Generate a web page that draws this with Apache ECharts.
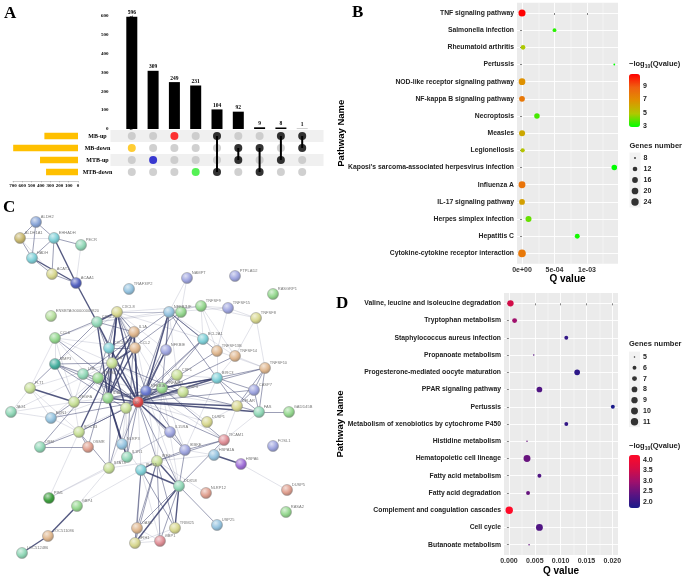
<!DOCTYPE html>
<html><head><meta charset="utf-8">
<script src="https://cdn.jsdelivr.net/npm/echarts@6/dist/echarts.min.js"></script>
<style>html,body{margin:0;padding:0;background:#fff}#c{width:685px;height:578px}</style>
</head><body><div id="c"></div>
<script>
// ================= DATA =================
// Panel A (UpSet)
const setNames = ['MB-up', 'MB-down', 'MTB-up', 'MTB-down'];
const setSizes = [362, 698, 409, 344];
const intersectSizes = [596, 309, 249, 231, 104, 92, 9, 8, 1];
const intersectSets = [['MB-down'], ['MTB-up'], ['MB-up'], ['MTB-down'], ['MB-up', 'MTB-down'],
  ['MB-down', 'MTB-up'], ['MB-down', 'MTB-down'], ['MB-up', 'MTB-up'], ['MB-up', 'MB-down']];
const barTicksMax = 600;
const setSizeMax = 700;

// Panel B (KEGG, dot plot)
const bPathways = ['TNF signaling pathway', 'Salmonella infection', 'Rheumatoid arthritis', 'Pertussis',
  'NOD-like receptor signaling pathway', 'NF-kappa B signaling pathway', 'Necroptosis', 'Measles',
  'Legionellosis', "Kaposi's sarcoma-associated herpesvirus infection", 'Influenza A',
  'IL-17 signaling pathway', 'Herpes simplex infection', 'Hepatitis C', 'Cytokine-cytokine receptor interaction'];
const bQvalue = [1.6e-11, 5.0e-4, 1.6e-5, 1.42e-3, 1.6e-7, 1.6e-8, 2.3e-4, 1.0e-6, 1.0e-5, 1.42e-3,
  1.0e-8, 5.0e-7, 1.0e-4, 8.5e-4, 1.6e-8];
const bGenes = [22, 10, 12, 8, 20, 16, 15, 17, 11, 15, 21, 16, 17, 13, 25];
const bQTicks = [0, 0.0005, 0.001];
const bColorTicks = [3, 5, 7, 9];
const bSizeTicks = [8, 12, 16, 20, 24];

// Panel D (KEGG, dot plot)
const dPathways = ['Valine, leucine and isoleucine degradation', 'Tryptophan metabolism',
  'Staphylococcus aureus infection', 'Propanoate metabolism', 'Progesterone-mediated oocyte maturation',
  'PPAR signaling pathway', 'Pertussis', 'Metabolism of xenobiotics by cytochrome P450',
  'Histidine metabolism', 'Hematopoietic cell lineage', 'Fatty acid metabolism', 'Fatty acid degradation',
  'Complement and coagulation cascades', 'Cell cycle', 'Butanoate metabolism'];
const dQvalue = [0.0003, 0.0011, 0.0111, 0.0048, 0.0132, 0.0059, 0.0201, 0.0111, 0.0035, 0.0035,
  0.0059, 0.0037, 0.00006, 0.0059, 0.0039];
const dGenes = [9, 7, 6, 5, 8, 8, 6, 6, 5, 10, 6, 6, 11, 10, 5];
const dQTicks = [0, 0.005, 0.010, 0.015, 0.020];
const dColorTicks = [2.0, 2.5, 3.0, 3.5, 4.0];
const dSizeTicks = [5, 6, 7, 8, 9, 10, 11];

// Panel C (STRING network): node name + layout position
const netNodes = [
  ['ALDH2', 36, 222], ['ALDH1A1', 20, 238], ['EHHADH', 54, 238], ['PECR', 81, 245], ['HADH', 32, 258],
  ['ACAT1', 52, 274], ['ACAA1', 76, 283], ['TRAF3IP2', 129, 289], ['NAMPT', 187, 278], ['PTPLAD2', 235, 276],
  ['RASGRP1', 273, 294], ['ENSBTAG00000009820', 51, 316], ['CXCL8', 117, 312], ['CXCL2', 97, 322],
  ['NFKB2', 169, 312], ['LIF', 181, 312], ['TNFSF9', 201, 306], ['TNFSF15', 228, 308], ['TNFSF8', 256, 318],
  ['CCL6', 55, 338], ['IL1A', 134, 332], ['BCL2A1', 203, 339], ['CXCL3', 109, 348], ['CCL2', 135, 348],
  ['NFKBIE', 166, 350], ['TNFSF13B', 217, 351], ['TNFSF14', 235, 356], ['MMP3', 55, 364], ['IL6', 112, 363],
  ['TNFSF10', 265, 368], ['LTB', 83, 374], ['PTGS2', 98, 378], ['CSF1', 177, 375], ['BIRC3', 217, 378],
  ['FLT1', 30, 388], ['NFKBIA', 146, 391], ['TNFAIP3', 162, 388], ['CSF3', 183, 392], ['CASP7', 254, 390],
  ['VEGFA', 74, 402], ['IL1B', 108, 398], ['TNF', 138, 402], ['CFLAR', 237, 406], ['JAG1', 11, 412],
  ['FAS', 259, 412], ['GADD45B', 289, 412], ['IL10', 126, 408], ['EDN1', 51, 418], ['DUSP1', 207, 422],
  ['SOCS3', 79, 432], ['IL15RA', 170, 432], ['TICAM1', 224, 440], ['OSM', 40, 447], ['OSMR', 88, 447],
  ['NLRP3', 122, 444], ['IKBKE', 185, 450], ['HSPA1A', 214, 455], ['FOSL1', 273, 446], ['HSPA6', 241, 464],
  ['IL1R1', 127, 457], ['STAT4', 109, 468], ['IRF7', 157, 461], ['ISG15', 141, 470], ['DDX58', 179, 486],
  ['NLRP12', 206, 493], ['DUSP5', 287, 490], ['PIM1', 49, 498], ['GBP4', 77, 506], ['RASA2', 286, 512],
  ['USP25', 217, 525], ['TRIM25', 175, 528], ['OASL', 137, 528], ['LOC511086', 48, 536], ['IFIH1', 135, 543],
  ['GBP1', 160, 541], ['LOC512486', 22, 553]
];
// edges: [source, target, confidence 1..3]
const netEdges = [
  ['ALDH2','ALDH1A1',2],['ALDH2','EHHADH',2],['ALDH2','HADH',2],['ALDH1A1','EHHADH',1],['ALDH1A1','HADH',2],
  ['EHHADH','HADH',2],['EHHADH','ACAT1',2],['EHHADH','ACAA1',3],['EHHADH','PECR',2],['PECR','ACAA1',1],
  ['HADH','ACAT1',2],['HADH','ACAA1',3],['ACAT1','ACAA1',2],['ALDH1A1','ACAT1',1],['ACAA1','CXCL2',3],
  ['TNF','CXCL8',3],['TNF','CXCL2',3],['TNF','IL1A',3],['TNF','CCL2',3],['TNF','CXCL3',2],['TNF','NFKBIE',2],
  ['TNF','IL6',3],['TNF','PTGS2',3],['TNF','LTB',2],['TNF','MMP3',2],['TNF','VEGFA',2],['TNF','NFKBIA',3],
  ['TNF','TNFAIP3',3],['TNF','CSF1',2],['TNF','CSF3',2],['TNF','BIRC3',3],['TNF','CFLAR',3],['TNF','FAS',3],
  ['TNF','CASP7',2],['TNF','IL1B',3],['TNF','IL10',3],['TNF','SOCS3',2],['TNF','EDN1',2],['TNF','IL15RA',3],
  ['TNF','NLRP3',2],['TNF','IKBKE',2],['TNF','DUSP1',1],['TNF','IL1R1',2],['TNF','STAT4',1],['TNF','IRF7',2],
  ['TNF','ISG15',1],['TNF','DDX58',2],['TNF','TICAM1',2],['TNF','BCL2A1',2],['TNF','TNFSF13B',2],
  ['TNF','TNFSF14',2],['TNF','TNFSF10',2],['TNF','NFKB2',2],['TNF','LIF',2],['TNF','CCL6',2],['TNF','OSM',1],
  ['IL6','CXCL8',3],['IL6','CXCL2',2],['IL6','IL1A',3],['IL6','CCL2',3],['IL6','PTGS2',2],['IL6','VEGFA',2],
  ['IL6','MMP3',2],['IL6','IL1B',3],['IL6','IL10',3],['IL6','SOCS3',3],['IL6','OSM',2],['IL6','OSMR',2],
  ['IL6','LIF',2],['IL6','CSF3',2],['IL6','CCL6',1],['IL6','TNFAIP3',1],['IL6','NFKBIA',1],['IL6','STAT4',2],
  ['IL6','EDN1',1],['IL6','FLT1',1],['IL6','JAG1',1],
  ['IL1B','CXCL8',3],['IL1B','CXCL2',3],['IL1B','CXCL3',2],['IL1B','CCL2',3],['IL1B','IL1A',3],['IL1B','PTGS2',2],
  ['IL1B','MMP3',2],['IL1B','NLRP3',3],['IL1B','IL1R1',3],['IL1B','IL10',2],['IL1B','CSF3',2],['IL1B','NFKBIA',2],
  ['IL1B','TNFAIP3',1],['IL1B','VEGFA',1],['IL1B','EDN1',1],['IL1B','CCL6',1],
  ['CXCL8','CXCL2',3],['CXCL8','CXCL3',2],['CXCL8','CCL2',2],['CXCL8','IL1A',2],['CXCL8','CCL6',2],
  ['CXCL8','PTGS2',2],['CXCL8','NFKBIA',2],['CXCL8','NFKBIE',1],['CXCL8','MMP3',1],['CXCL8','TNFAIP3',1],
  ['CXCL8','CSF3',1],['CXCL8','TNFSF9',1],['CXCL8','LIF',1],['CXCL8','NFKB2',1],['CXCL8','BCL2A1',1],
  ['NFKBIA','NFKB2',3],['NFKBIA','NFKBIE',3],['NFKBIA','TNFAIP3',2],['NFKBIA','BIRC3',2],['NFKBIA','IKBKE',2],
  ['NFKBIA','IRF7',1],['NFKBIA','CFLAR',1],['NFKBIA','BCL2A1',2],['NFKBIA','LTB',1],['NFKBIA','TICAM1',1],
  ['NFKBIA','DDX58',1],['NFKBIA','IL1A',1],
  ['TNFAIP3','BIRC3',3],['TNFAIP3','CFLAR',2],['TNFAIP3','NFKB2',2],['TNFAIP3','IKBKE',1],['TNFAIP3','DDX58',1],
  ['TNFAIP3','TICAM1',2],['TNFAIP3','BCL2A1',2],['TNFAIP3','IRF7',1],['TNFAIP3','DUSP1',1],
  ['NFKB2','NFKBIE',2],['NFKB2','LIF',1],['NFKB2','TNFSF9',1],['NFKB2','TNFSF15',1],['NFKB2','BIRC3',2],
  ['NFKB2','BCL2A1',2],['NFKB2','LTB',2],['NFKB2','TNFSF13B',2],['NFKB2','TNFSF14',1],['NFKB2','NAMPT',1],
  ['NFKB2','CSF1',1],['NAMPT','LIF',1],
  ['TNFSF9','TNFSF15',1],['TNFSF9','TNFSF8',1],['TNFSF9','TNFSF13B',1],['TNFSF9','TNFSF14',1],['TNFSF9','BCL2A1',1],
  ['TNFSF15','TNFSF8',1],['TNFSF15','TNFSF13B',1],['TNFSF8','TNFSF10',1],['TNFSF8','TNFSF14',1],
  ['TNFSF10','FAS',2],['TNFSF10','CASP7',2],['TNFSF10','CFLAR',2],['TNFSF10','BIRC3',2],['TNFSF10','TNFSF14',1],
  ['TNFSF10','TNFSF13B',1],['FAS','CASP7',2],['FAS','CFLAR',2],['FAS','GADD45B',2],['FAS','BIRC3',2],['FAS','TICAM1',1],
  ['CASP7','CFLAR',2],['CASP7','BIRC3',2],['CFLAR','BIRC3',2],['CFLAR','TICAM1',1],['CFLAR','DUSP1',1],
  ['BIRC3','TNFSF13B',1],['BIRC3','TNFSF14',1],['BIRC3','CSF1',1],['BIRC3','IKBKE',1],
  ['TICAM1','DDX58',2],['TICAM1','IKBKE',2],['TICAM1','HSPA1A',1],['TICAM1','IRF7',2],
  ['HSPA1A','HSPA6',3],['HSPA1A','IKBKE',1],['HSPA1A','IRF7',1],['HSPA6','DUSP5',1],
  ['DDX58','IRF7',3],['DDX58','ISG15',3],['DDX58','TRIM25',3],['DDX58','OASL',2],['DDX58','IFIH1',3],
  ['DDX58','GBP1',2],['DDX58','USP25',2],['DDX58','IKBKE',2],
  ['IRF7','ISG15',3],['IRF7','OASL',2],['IRF7','IFIH1',2],['IRF7','GBP1',2],['IRF7','TRIM25',2],['IRF7','IKBKE',2],
  ['IRF7','STAT4',1],['IRF7','GBP4',1],['ISG15','OASL',2],['ISG15','IFIH1',2],['ISG15','GBP1',1],['ISG15','TRIM25',2],
  ['OASL','IFIH1',2],['OASL','GBP1',1],['IFIH1','GBP1',1],['TRIM25','GBP1',1],['TRIM25','IFIH1',1],['ISG15','NLRP3',1],
  ['GBP4','LOC511086',3],['LOC511086','LOC512486',3],['GBP4','STAT4',1],
  ['PIM1','SOCS3',1],['PIM1','STAT4',1],['PIM1','IL1R1',1],
  ['SOCS3','OSM',2],['SOCS3','OSMR',2],['SOCS3','STAT4',2],['SOCS3','FLT1',1],['SOCS3','VEGFA',1],['SOCS3','EDN1',1],
  ['SOCS3','IL10',2],['OSM','OSMR',2],
  ['FLT1','VEGFA',3],['FLT1','JAG1',1],['FLT1','EDN1',1],['FLT1','MMP3',2],['FLT1','CCL6',1],
  ['VEGFA','MMP3',2],['VEGFA','EDN1',2],['VEGFA','JAG1',1],['VEGFA','PTGS2',2],['VEGFA','LTB',1],['VEGFA','CCL6',1],
  ['MMP3','CCL6',1],['MMP3','CXCL2',2],['MMP3','PTGS2',2],['MMP3','LTB',1],['CCL6','CXCL2',1],['CCL6','CCL2',1],
  ['IL15RA','IL1R1',1],['IL15RA','IKBKE',1],['IL15RA','STAT4',1],['CSF1','CSF3',2],
  ['IL10','STAT4',2],['IL10','IL1R1',1],['IL10','NLRP3',1],['NLRP3','IL1R1',2],['IL1R1','IL1A',2],
  ['CXCL3','CCL2',2],['CXCL3','CXCL2',2],['CXCL3','IL1A',2],['IL1A','CCL2',2],['IL1A','CXCL2',2],
  ['CXCL2','TNFSF9',1],['CXCL2','LIF',1],['NLRP12','IRF7',1],['EDN1','JAG1',1]
];

// ================= STYLE =================
const SERIF = 'Liberation Serif', SANS = 'Liberation Sans';
const setColor = {'MB-up': '#ff0000', 'MB-down': '#ffc000', 'MTB-up': '#0a0ac8', 'MTB-down': '#2aee2a'};
const pal = {blue:'#8aa6d8', olive:'#c8b870', cyan:'#80d0d8', mint:'#92d8b8', yellow:'#d8d890', dblue:'#5563c0',
  lblue:'#96c4e0', peri:'#a0a6e0', green:'#96d890', lgreen:'#b8e0a0', peach:'#e0b890', teal:'#48b0a0',
  ygreen:'#c8e098', red:'#e04848', salmon:'#e0a090', purple:'#a070d8', dgreen:'#40a040', pink:'#e09098', dperi:'#6878d0'};
const nodeColor = {ALDH2:'blue', ALDH1A1:'olive', EHHADH:'cyan', PECR:'mint', HADH:'cyan', ACAT1:'yellow',
  ACAA1:'dblue', TRAF3IP2:'lblue', NAMPT:'peri', PTPLAD2:'peri', RASGRP1:'green', ENSBTAG00000009820:'lgreen',
  CXCL8:'yellow', CXCL2:'mint', NFKB2:'lblue', LIF:'green', TNFSF9:'green', TNFSF15:'peri', TNFSF8:'yellow',
  CCL6:'green', IL1A:'peach', BCL2A1:'cyan', CXCL3:'cyan', CCL2:'peach', NFKBIE:'peri', TNFSF13B:'peach',
  TNFSF14:'peach', MMP3:'teal', IL6:'ygreen', TNFSF10:'peach', LTB:'mint', PTGS2:'green', CSF1:'ygreen',
  BIRC3:'cyan', FLT1:'ygreen', NFKBIA:'dperi', TNFAIP3:'green', CSF3:'ygreen', CASP7:'peri', VEGFA:'ygreen',
  IL1B:'green', TNF:'red', CFLAR:'yellow', JAG1:'mint', FAS:'mint', GADD45B:'green', IL10:'ygreen', EDN1:'lblue',
  DUSP1:'yellow', SOCS3:'ygreen', IL15RA:'peri', TICAM1:'pink', OSM:'mint', OSMR:'salmon', NLRP3:'lblue',
  IKBKE:'peri', HSPA1A:'lblue', FOSL1:'peri', HSPA6:'purple', IL1R1:'mint', STAT4:'ygreen', IRF7:'ygreen',
  ISG15:'cyan', DDX58:'mint', NLRP12:'salmon', DUSP5:'salmon', PIM1:'dgreen', GBP4:'green', RASA2:'green',
  USP25:'lblue', TRIM25:'yellow', OASL:'peach', LOC511086:'peach', IFIH1:'yellow', GBP1:'pink', LOC512486:'mint'};

function mix(c, d, t) {
  const p = s => [1,3,5].map(i => parseInt(s.substr(i,2),16));
  const a = p(c), b = p(d);
  return 'rgb(' + a.map((v,i) => Math.round(v + (b[i]-v)*t)).join(',') + ')';
}
function sphere(c) {
  return {type:'radial', x:0.38, y:0.32, r:0.75, colorStops:[
    {offset:0, color:mix(c,'#ffffff',0.65)}, {offset:0.55, color:c}, {offset:1, color:mix(c,'#000000',0.28)}]};
}

// ================= BUILD =================
const grids = [], xAxes = [], yAxes = [], series = [], visualMaps = [];
const titles = [];
const letter = (t, l, tp) => titles.push({text:t, left:l, top:tp, padding:0,
  textStyle:{fontFamily:SERIF, fontWeight:'bold', fontSize:17, color:'#000'}});
letter('A', 4, 5); letter('B', 352, 4); letter('C', 3, 199); letter('D', 336, 295);

// ---- Panel A ----
const aLeft = 110.5, aWidth = 213;
let g = grids.push({left:aLeft, top:16, width:aWidth, height:113}) - 1;
let xi = xAxes.push({gridIndex:g, type:'value', min:-1, max:9, show:false}) - 1;
let yi = yAxes.push({gridIndex:g, type:'value', min:0, max:barTicksMax, interval:100,
  axisLine:{show:true, lineStyle:{color:'#000', width:0.6}},
  axisTick:{show:true, length:2, lineStyle:{color:'#000', width:0.6}},
  axisLabel:{fontFamily:SERIF, fontWeight:'bold', fontSize:5, color:'#000', margin:2},
  splitLine:{show:false}}) - 1;
series.push({type:'bar', xAxisIndex:xi, yAxisIndex:yi, barWidth:11,
  data:intersectSizes.map((v,i) => [i, v]), itemStyle:{color:'#000'},
  label:{show:true, position:'top', distance:1, fontFamily:SERIF, fontWeight:'bold', fontSize:5.5, color:'#000'}});

g = grids.push({left:aLeft, top:130, width:aWidth, height:48}) - 1;
const xm = xAxes.push({gridIndex:g, type:'value', min:-1, max:9, show:false}) - 1;
const ym = yAxes.push({gridIndex:g, type:'category', data:setNames, inverse:true,
  axisLine:{show:false}, axisTick:{show:false},
  axisLabel:{fontFamily:SERIF, fontWeight:'bold', fontSize:6, color:'#000', align:'center', margin:13},
  splitArea:{show:true, areaStyle:{color:['#f0f0f0', '#ffffff']}}, splitLine:{show:false}}) - 1;
const grayDots = [], onDots = [];
intersectSets.forEach((sets, i) => {
  setNames.forEach(s => {
    if (sets.includes(s)) onDots.push({value:[i, s], itemStyle:{color: sets.length === 1 ? setColor[s] : '#000'}});
    else grayDots.push([i, s]);
  });
  if (sets.length > 1) {
    const rows = sets.map(s => setNames.indexOf(s)).sort((a,b) => a-b);
    series.push({type:'line', xAxisIndex:xm, yAxisIndex:ym, z:3, symbol:'none', silent:true,
      data:[[i, setNames[rows[0]]], [i, setNames[rows[rows.length-1]]]], lineStyle:{color:'#000', width:2}});
  }
});
series.push({type:'scatter', xAxisIndex:xm, yAxisIndex:ym, z:2, symbolSize:8, data:grayDots, itemStyle:{color:'#c4c4c4'}});
series.push({type:'scatter', xAxisIndex:xm, yAxisIndex:ym, z:4, symbolSize:8, data:onDots});

g = grids.push({left:13, top:130, width:65, height:48}) - 1;
xi = xAxes.push({gridIndex:g, type:'value', min:0, max:setSizeMax, interval:100, inverse:true, offset:3,
  axisLine:{show:true, lineStyle:{color:'#999', width:0.5}}, axisTick:{show:true, length:1.5, lineStyle:{color:'#999', width:0.5}},
  axisLabel:{fontFamily:SERIF, fontWeight:'bold', fontSize:5, color:'#000', margin:2}, splitLine:{show:false}}) - 1;
yi = yAxes.push({gridIndex:g, type:'category', data:setNames, inverse:true, show:false}) - 1;
series.push({type:'bar', xAxisIndex:xi, yAxisIndex:yi, barWidth:6.5, data:setSizes, itemStyle:{color:'#ffc000'}});

// ---- dot plot panels ----
const sciFmt = v => {
  if (v === 0) return '0e+00';
  const e = Math.floor(Math.log10(v) + 1e-9), m = Math.round(v / Math.pow(10, e));
  return m + 'e' + (e < 0 ? '-' : '+') + String(Math.abs(e)).padStart(2, '0');
};
function dotPanel(p) {
  const gi = grids.push({left:p.left, top:p.top, width:p.width, height:p.height, show:true,
    backgroundColor:'#ebebeb', borderWidth:0}) - 1;
  const step = p.xticks[1] - p.xticks[0];
  const minor = p.xticks.map(v => v + step / 2).filter(v => v < p.xmax);
  const xi = xAxes.push({gridIndex:gi, type:'value', min:p.xmin, max:p.xmax, position:'bottom',
    name:'Q value', nameLocation:'middle', nameGap:11, nameMoveOverlap:false,
    nameTextStyle:{fontFamily:SANS, fontSize:10, fontWeight:'bold', color:'#000', verticalAlign:'top'},
    axisLine:{show:false},
    axisTick:{show:true, length:2, lineStyle:{color:'#333', width:0.6}, customValues:p.xticks},
    axisLabel:{customValues:p.xticks, formatter:p.fmt, fontFamily:SANS, fontSize:7, fontWeight:'bold', color:'#333', margin:3},
    splitLine:{show:true, lineStyle:{color:'#ffffff', width:0.9}}}) - 1;
  xAxes.push({gridIndex:gi, type:'value', min:p.xmin, max:p.xmax, position:'bottom',
    axisLine:{show:false}, axisTick:{show:false, customValues:minor}, axisLabel:{show:false, customValues:minor},
    splitLine:{show:true, lineStyle:{color:'#ffffff', width:0.45}}});
  const idx = p.cats.map((c, i) => i);
  const yi = yAxes.push({gridIndex:gi, type:'value', min:-0.6, max:p.cats.length - 0.4, inverse:true,
    name:'Pathway Name', nameLocation:'middle', nameGap:p.nameGap, nameRotate:90, nameMoveOverlap:false,
    nameTextStyle:{fontFamily:SANS, fontSize:9.5, fontWeight:'bold', color:'#000'},
    axisLine:{show:false},
    axisTick:{show:true, length:2, lineStyle:{color:'#333', width:0.6}, customValues:idx},
    axisLabel:{customValues:idx, formatter:v => p.cats[Math.round(v)], fontFamily:SANS, fontSize:6.8,
      fontWeight:'bold', color:'#222', margin:3},
    splitLine:{show:true, lineStyle:{color:'#ffffff', width:0.9}}}) - 1;
  const logq = p.q.map(q => -Math.log10(q));
  const cmin = Math.min(...logq), cmax = Math.max(...logq);
  const gmin = Math.min(...p.genes), gmax = Math.max(...p.genes);
  const size = v => p.dmin + Math.sqrt(Math.max(0, (v - gmin) / (gmax - gmin))) * (p.dmax - p.dmin);
  const si = series.push({type:'scatter', xAxisIndex:xi, yAxisIndex:yi, z:5,
    data:p.cats.map((c, i) => [p.q[i], i, logq[i], p.genes[i]]),
    symbolSize:v => size(v[3]), itemStyle:{opacity:1}}) - 1;
  visualMaps.push({type:'continuous', seriesIndex:si, dimension:2, min:cmin, max:cmax,
    inRange:{color:p.colors}, left:p.cbLeft, top:p.cbTop, itemWidth:11, itemHeight:53,
    calculable:false, padding:0, hoverLink:false, orient:'vertical'});
  // colorbar tick labels
  const cg = grids.push({left:p.cbLeft, top:p.cbTop, width:11, height:53}) - 1;
  xAxes.push({gridIndex:cg, type:'value', min:0, max:1, show:false});
  yAxes.push({gridIndex:cg, type:'value', min:cmin, max:cmax, position:'right',
    axisLine:{show:false}, axisTick:{show:false},
    axisLabel:{customValues:p.cticks, formatter:p.cfmt, fontFamily:SANS, fontSize:7, fontWeight:'bold', color:'#222', margin:3},
    splitLine:{show:false}});
  // size legend
  const n = p.sticks.length;
  const sg = grids.push({left:p.slLeft, top:p.slTop, width:11, height:p.slStep * n, show:true,
    backgroundColor:'#f2f2f2', borderWidth:0}) - 1;
  const sx = xAxes.push({gridIndex:sg, type:'category', data:['k'], show:false}) - 1;
  const sy = yAxes.push({gridIndex:sg, type:'category', data:p.sticks.map(String), inverse:true, position:'right',
    axisLine:{show:false}, axisTick:{show:false},
    axisLabel:{fontFamily:SANS, fontSize:7, fontWeight:'bold', color:'#222', margin:3}}) - 1;
  series.push({type:'scatter', xAxisIndex:sx, yAxisIndex:sy, data:p.sticks.map(v => ['k', String(v)]),
    symbolSize:v => size(+v[1]), itemStyle:{color:'#000'}});
  const lt = {fontFamily:SANS, color:'#222'};
  titles.push({text:'{a|\u2212log}{b|10}{a|(Qvalue)}', left:p.cbLeft, top:p.cbTitleTop, padding:0,
    textStyle:{rich:{a:Object.assign({fontSize:7.5, lineHeight:10, verticalAlign:'middle'}, lt),
      b:Object.assign({fontSize:5, lineHeight:10, verticalAlign:'bottom', padding:[3,0,0,0]}, lt)}}});
  titles.push({text:'Genes number', left:p.slLeft, top:p.slTitleTop, padding:0,
    textStyle:Object.assign({fontSize:7.5, fontWeight:'bold'}, lt)});
}

dotPanel({left:517, top:2.7, width:101, height:261, xmin:-0.000077, xmax:0.001477, xticks:bQTicks, fmt:sciFmt,
  cats:bPathways, q:bQvalue, genes:bGenes, nameGap:171, dmin:1.8, dmax:7.6,
  colors:['#00ff00', '#b0c800', '#e09000', '#f06010', '#ff0000'],
  cbLeft:629, cbTop:74, cticks:bColorTicks, cfmt:v => String(v), cbTitleTop:59,
  sticks:bSizeTicks, slLeft:629.5, slTop:152.5, slStep:11, slTitleTop:142});

dotPanel({left:504, top:293, width:114, height:262, xmin:-0.00095, xmax:0.0211, xticks:dQTicks,
  fmt:v => v.toFixed(3), cats:dPathways, q:dQvalue, genes:dGenes, nameGap:159, dmin:1.5, dmax:7.4,
  colors:['#1a1a8a', '#5a1482', '#a0106c', '#d80c44', '#ff0a28'],
  cbLeft:629, cbTop:455, cticks:dColorTicks, cfmt:v => v.toFixed(1), cbTitleTop:441,
  sticks:dSizeTicks, slLeft:629, slTop:351.6, slStep:10.8, slTitleTop:340});

// ---- Panel C: network ----
g = grids.push({left:0, top:195, width:300, height:383}) - 1;
xi = xAxes.push({gridIndex:g, type:'value', min:0, max:300, show:false}) - 1;
yi = yAxes.push({gridIndex:g, type:'value', min:195, max:578, inverse:true, show:false}) - 1;
const ew = [0, 0.5, 0.9, 1.4], eo = [0, 0.3, 0.55, 0.85];
series.push({type:'graph', coordinateSystem:'cartesian2d', xAxisIndex:xi, yAxisIndex:yi, z:1, silent:true,
  data:netNodes.map(nd => ({name:nd[0], value:[nd[1], nd[2]],
    itemStyle:{color:sphere(pal[nodeColor[nd[0]]] || '#cccccc'), borderColor:'#8c8c8c', borderWidth:0.5}})),
  links:netEdges.map(e => ({source:e[0], target:e[1], lineStyle:{width:ew[e[2]], opacity:eo[e[2]]}})),
  symbolSize:11,
  label:{show:true, position:'right', distance:0, offset:[-1, -5], fontFamily:SANS, fontSize:4, color:'#777',
    formatter:'{b}'},
  lineStyle:{color:'#353b6a', curveness:0},
  emphasis:{disabled:true}});

const chart = echarts.init(document.getElementById('c'), null, {renderer:'canvas', width:685, height:578});
chart.setOption({
  backgroundColor:'#ffffff', animation:false,
  title:titles, grid:grids, xAxis:xAxes, yAxis:yAxes, visualMap:visualMaps, series:series
});
</script></body></html>
